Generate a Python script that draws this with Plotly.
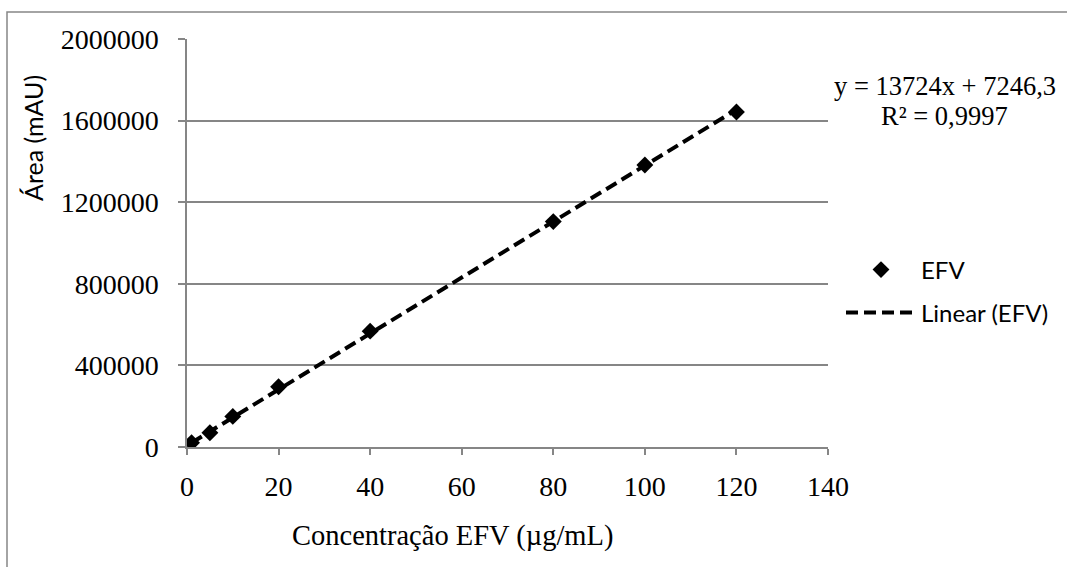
import numpy as np
import plotly.graph_objects as go

# Calibration data: EFV concentration vs peak area
concentracao = [1, 5, 10, 20, 40, 80, 100, 120]
area = [21000, 70000, 150000, 295000, 568000, 1105000, 1382000, 1642000]

# Linear regression reported for the curve
slope = 13724
intercept = 7246.3
r2_text = "0,9997"

x_ticks = [0, 20, 40, 60, 80, 100, 120, 140]
y_ticks = [0, 400000, 800000, 1200000, 1600000, 2000000]

W, H = 1067, 567
L, R, T, B = 187, 828, 39, 447   # plot area edges in px
pw, ph = R - L, B - T

def px_x(v):
    return (v - L) / pw

def px_y(v):
    return (B - v) / ph

GRID = "#868686"
SERIF = "Liberation Serif, Times New Roman, serif"
SANS = "Lato, Carlito, Calibri, sans-serif"

x_fit = np.array([min(concentracao), max(concentracao)], dtype=float)
y_fit = slope * x_fit + intercept

fig = go.Figure()
fig.add_trace(go.Scatter(
    x=concentracao, y=area, mode="markers", name="EFV",
    marker=dict(symbol="diamond", size=13, color="black"),
    legend="legend",
))
fig.add_trace(go.Scatter(
    x=x_fit, y=y_fit, mode="lines", name="Linear (EFV)",
    line=dict(color="black", width=4, dash="12px,6px"),
    legend="legend2",
))

legend_common = dict(
    xanchor="left", yanchor="middle",
    font=dict(family=SANS, size=24, color="black"),
    bgcolor="rgba(0,0,0,0)", itemwidth=70,
)

eq_line1 = f"y = {slope}x + {str(intercept).replace('.', ',')}"
eq_line2 = f"R² = {r2_text}"

fig.update_layout(
    width=W, height=H,
    margin=dict(l=L, r=W - R, t=T, b=H - B, pad=0),
    paper_bgcolor="white", plot_bgcolor="white",
    font=dict(family=SERIF, size=28, color="black"),
    showlegend=True,
    legend=dict(x=px_x(841), y=px_y(270), **legend_common),
    legend2=dict(x=px_x(841), y=px_y(313), **legend_common),
    xaxis=dict(
        range=[0, 140], tickvals=x_ticks, ticktext=[str(v) for v in x_ticks],
        showgrid=False, zeroline=False,
        showline=True, linecolor=GRID, linewidth=1.5,
        ticks="outside", ticklen=6, tickcolor=GRID, tickwidth=1.5,
        ticklabelstandoff=8,
        tickfont=dict(family=SERIF, size=28, color="black"),
    ),
    yaxis=dict(
        range=[0, 2000000], tickvals=y_ticks, ticktext=[str(v) for v in y_ticks],
        showgrid=True, gridcolor=GRID, gridwidth=1.5, zeroline=False,
        showline=True, linecolor=GRID, linewidth=1.5,
        ticks="outside", ticklen=7, tickcolor=GRID, tickwidth=1.5,
        ticklabelstandoff=14,
        tickfont=dict(family=SERIF, size=28, color="black"),
    ),
    shapes=[
        # chart frame (right and bottom edges fall outside the view)
        dict(type="rect", xref="paper", yref="paper",
             x0=px_x(7), x1=px_x(1100), y0=px_y(600), y1=px_y(12),
             line=dict(color=GRID, width=1.5), fillcolor="rgba(0,0,0,0)",
             layer="below"),
    ],
    annotations=[
        dict(text="Área (mAU)", xref="paper", yref="paper",
             x=px_x(33), y=px_y(138), textangle=-90, showarrow=False,
             xanchor="center", yanchor="middle",
             font=dict(family=SANS, size=25, color="black")),
        dict(text="Concentração EFV (µg/mL)", xref="paper", yref="paper",
             x=px_x(452), y=px_y(536), showarrow=False,
             xanchor="center", yanchor="middle",
             font=dict(family=SERIF, size=28.5, color="black")),
        dict(text=eq_line1, xref="paper", yref="paper",
             x=px_x(945), y=px_y(86), showarrow=False,
             xanchor="center", yanchor="middle",
             font=dict(family=SERIF, size=26.5, color="black")),
        dict(text=eq_line2, xref="paper", yref="paper",
             x=px_x(944), y=px_y(116), showarrow=False,
             xanchor="center", yanchor="middle",
             font=dict(family=SERIF, size=26.5, color="black")),
    ],
)

fig.write_html("out.html")
